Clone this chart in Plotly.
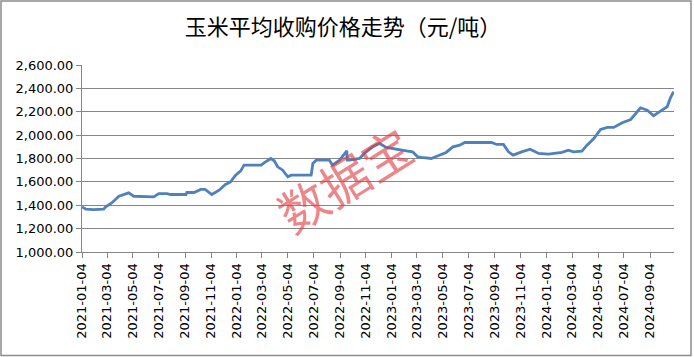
import plotly.graph_objects as go

title_text = "玉米平均收购价格走势（元/吨）"

dates = [
    "2021-01-04", "2021-01-13", "2021-02-01", "2021-02-24", "2021-03-01", "2021-03-15",
    "2021-04-01", "2021-04-24", "2021-05-06", "2021-06-03", "2021-06-22", "2021-07-04",
    "2021-07-23", "2021-08-01", "2021-09-06", "2021-09-08", "2021-09-25", "2021-10-11",
    "2021-10-21", "2021-11-06", "2021-11-23", "2021-12-08", "2021-12-20", "2022-01-01",
    "2022-01-13", "2022-01-21", "2022-02-14", "2022-03-02", "2022-03-09", "2022-03-25",
    "2022-04-02", "2022-04-10", "2022-04-22", "2022-05-04", "2022-05-12", "2022-06-28",
    "2022-07-02", "2022-07-10", "2022-08-10", "2022-08-17", "2022-09-03", "2022-09-20",
    "2022-09-21", "2022-09-26", "2022-10-20", "2022-10-31", "2022-11-20", "2022-12-06",
    "2022-12-22", "2023-01-14", "2023-02-07", "2023-02-22", "2023-03-06", "2023-03-14",
    "2023-04-07", "2023-04-23", "2023-05-12", "2023-05-28", "2023-06-13", "2023-06-25",
    "2023-07-26", "2023-08-27", "2023-09-08", "2023-09-24", "2023-10-06", "2023-10-17",
    "2023-11-06", "2023-11-26", "2023-12-16", "2024-01-08", "2024-02-09", "2024-02-24",
    "2024-03-07", "2024-03-27", "2024-04-08", "2024-04-24", "2024-05-10", "2024-05-26",
    "2024-06-10", "2024-06-30", "2024-07-20", "2024-08-01", "2024-08-12", "2024-08-28",
    "2024-09-12", "2024-09-28", "2024-10-14", "2024-10-21", "2024-10-29",
]
prices = [
    1385, 1366, 1362, 1366, 1386, 1420,
    1477, 1506, 1477, 1471, 1471, 1500,
    1500, 1492, 1492, 1509, 1509, 1535,
    1535, 1492, 1529, 1578, 1600, 1657,
    1694, 1743, 1743, 1743, 1763, 1800,
    1780, 1729, 1700, 1643, 1657, 1657,
    1757, 1786, 1786, 1743, 1786, 1866,
    1786, 1786, 1800, 1843, 1900, 1929,
    1895, 1878, 1866, 1857, 1814, 1809,
    1800, 1823, 1852, 1900, 1914, 1937,
    1937, 1937, 1920, 1920, 1857, 1829,
    1857, 1880, 1843, 1837, 1852, 1871,
    1857, 1863, 1914, 1971, 2049, 2066,
    2066, 2106, 2134, 2186, 2234, 2214,
    2166, 2206, 2243, 2314, 2371,
]

tick_dates = [
    "2021-01-04", "2021-03-04", "2021-05-04", "2021-07-04", "2021-09-04", "2021-11-04",
    "2022-01-04", "2022-03-04", "2022-05-04", "2022-07-04", "2022-09-04", "2022-11-04",
    "2023-01-04", "2023-03-04", "2023-05-04", "2023-07-04", "2023-09-04", "2023-11-04",
    "2024-01-04", "2024-03-04", "2024-05-04", "2024-07-04", "2024-09-04",
]

watermark = "数据宝"

W, H = 694, 357
L, R, T, B = 82, 20, 65, 105
pw, ph = W - L - R, H - T - B

fig = go.Figure()
fig.add_trace(go.Scatter(
    x=dates, y=prices, mode="lines",
    line=dict(color="#4F81BD", width=2.8),
    hoverinfo="x+y", showlegend=False,
))

fig.update_layout(
    width=W, height=H,
    margin=dict(l=L, r=R, t=T, b=B, autoexpand=False),
    paper_bgcolor="white", plot_bgcolor="white",
    title=dict(text=title_text, x=343 / W, xref="container", xanchor="center",
               y=1 - 27 / H, yref="container", yanchor="middle",
               font=dict(family="Noto Sans CJK SC", size=22, color="black")),
    xaxis=dict(
        type="date",
        range=["2021-01-04", "2024-10-30"],
        tickvals=tick_dates, ticktext=tick_dates,
        tickangle=-90,
        ticks="outside", ticklen=5, tickcolor="#868686",
        showgrid=False, showline=True, linecolor="#868686", linewidth=1,
        tickfont=dict(family="DejaVu Sans", size=13, color="black"),
        zeroline=False, automargin=False,
    ),
    yaxis=dict(
        range=[1000, 2600], dtick=200, tick0=1000,
        tickformat=",.2f",
        ticks="outside", ticklen=5, tickcolor="#868686",
        showgrid=True, gridcolor="#868686", gridwidth=1,
        showline=True, linecolor="#868686", linewidth=1,
        tickfont=dict(family="DejaVu Sans", size=13, color="black"),
        zeroline=False, automargin=False,
    ),
)

# chart border
fig.add_shape(type="rect", xref="paper", yref="paper",
              x0=(1 - L) / pw, x1=(691 - L) / pw,
              y0=(H - B - 355.5) / ph, y1=(H - B - 1) / ph,
              line=dict(color="#8c8c8c", width=1.5), layer="below")

fig.add_annotation(
    text=watermark, xref="paper", yref="paper",
    x=(343 - L) / pw, y=(H - B - 178) / ph,
    showarrow=False, textangle=-32,
    font=dict(family="Noto Sans CJK SC", size=49, color="rgba(225,60,65,0.62)"),
)

fig.write_html("out.html", config={"displayModeBar": False},
               post_script="document.body.style.margin='0';")
